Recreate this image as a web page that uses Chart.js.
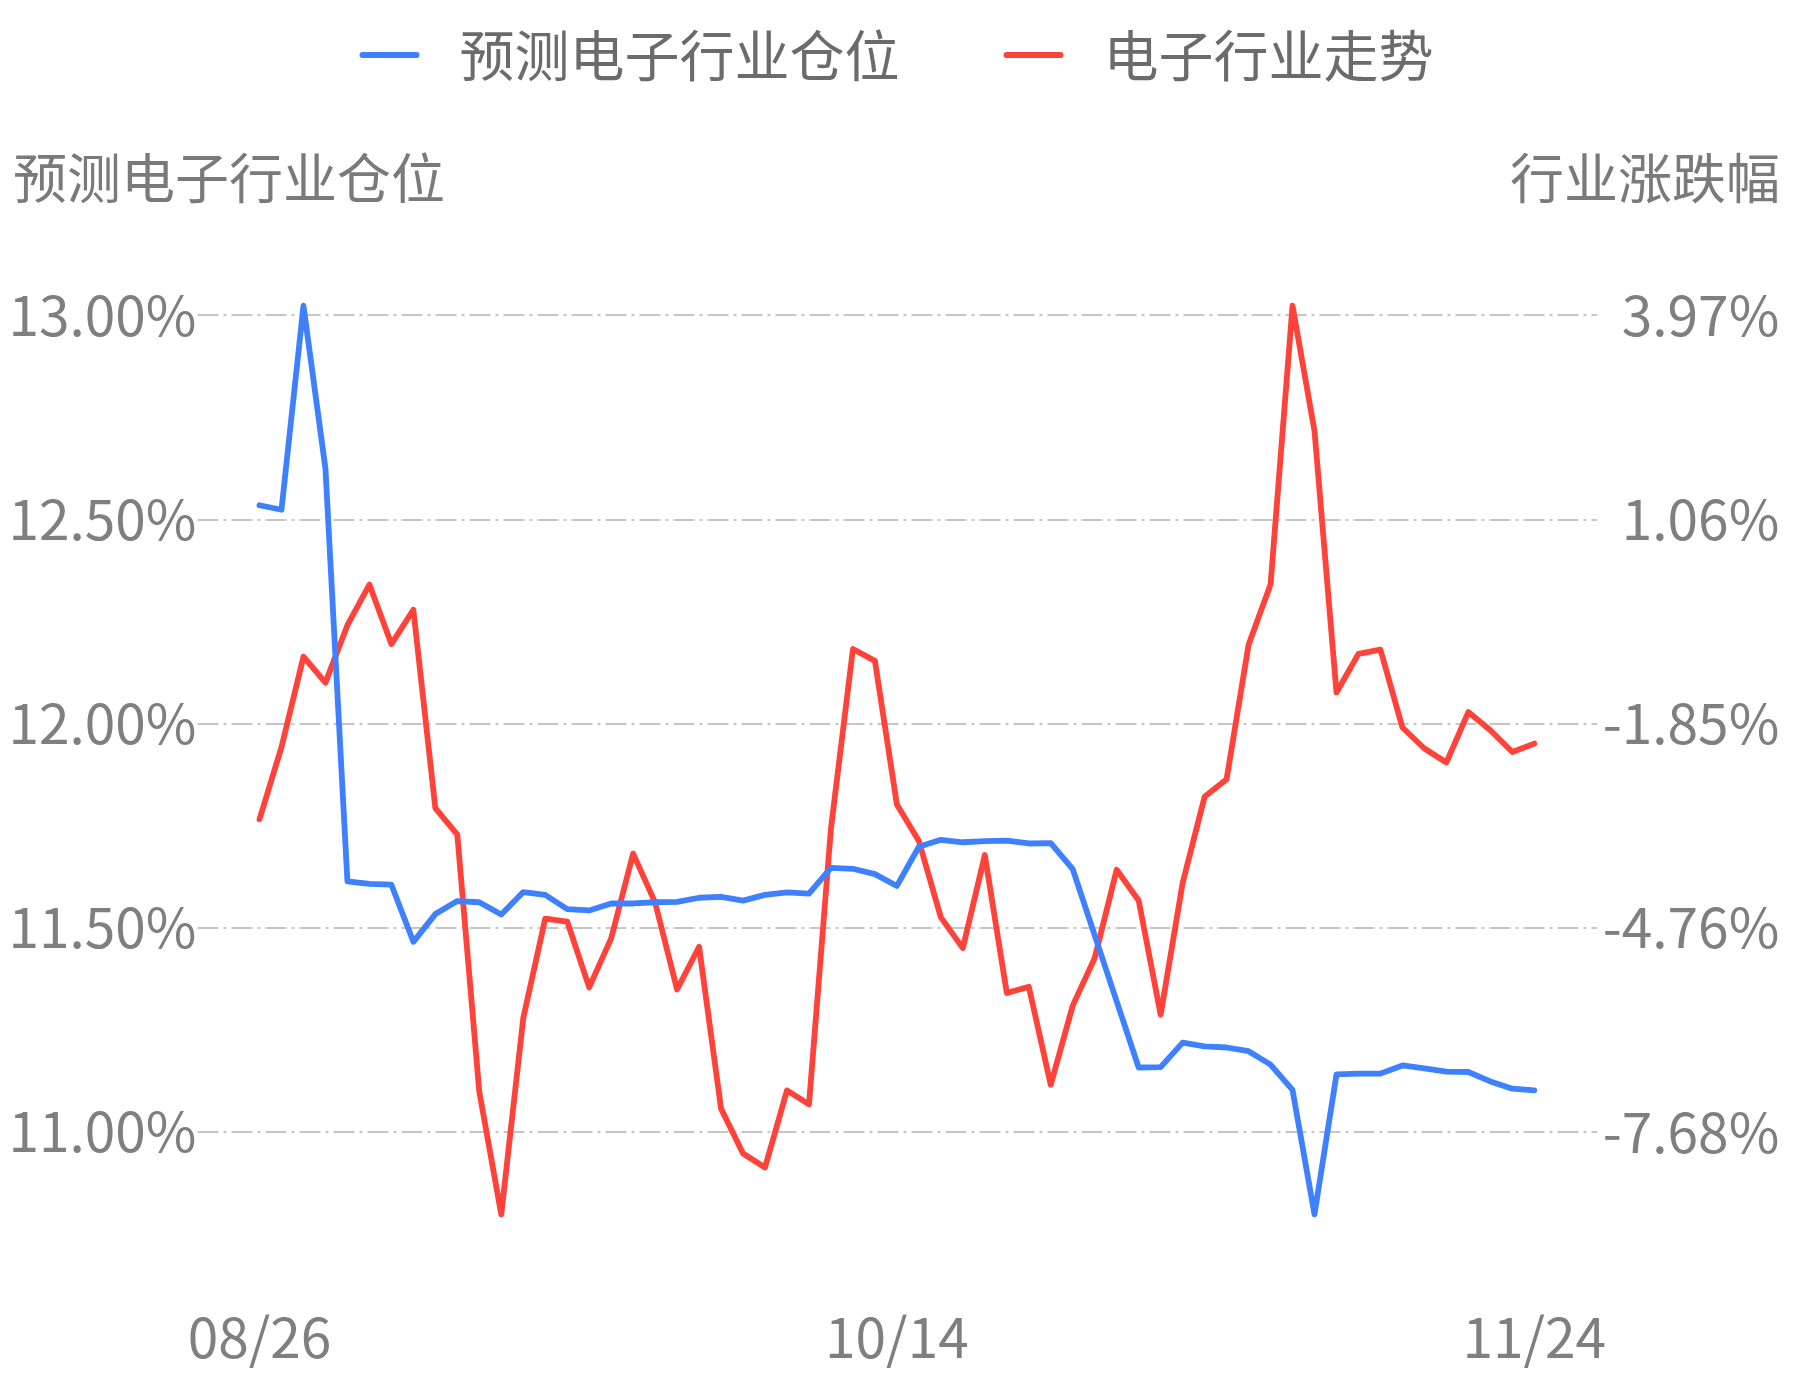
<!DOCTYPE html>
<html lang="zh-CN">
<head>
  <meta charset="UTF-8" />
  <title>预测电子行业仓位</title>
  <script src="https://cdn.jsdelivr.net/npm/chart.js"></script>
  <style>
    html, body { margin: 0; padding: 0; background: #fff; }
    #chart { display: block; }
  </style>
</head>
<body>
<canvas id="chart" width="1793" height="1380"></canvas>
<script>
  // trading days, only three of them get a tick label
  const dates = [
    "08/26", "08/27", "08/28", "08/29", "08/30",
    "09/02", "09/03", "09/04", "09/05", "09/06",
    "09/09", "09/10", "09/11", "09/12",
    "09/16", "09/17", "09/18", "09/19", "09/20",
    "09/23", "09/24", "09/25", "09/26", "09/27",
    "09/30",
    "10/08", "10/09", "10/10", "10/11",
    "10/14", "10/15", "10/16", "10/17", "10/18",
    "10/21", "10/22", "10/23", "10/24", "10/25",
    "10/28", "10/29", "10/30", "10/31", "11/01",
    "11/04", "11/05", "11/06", "11/07", "11/08",
    "11/11", "11/12", "11/13", "11/14", "11/15",
    "11/18", "11/19", "11/20", "11/21", "11/24"
  ];
  const xTickLabels = ["08/26", "10/14", "11/24"];

  // 预测电子行业仓位 (%), left axis
  const position = [
    12.535, 12.524, 13.024, 12.625, 11.613, 11.607, 11.605, 11.465, 11.533, 11.565,
    11.562, 11.532, 11.587, 11.580, 11.545, 11.542, 11.559, 11.559, 11.562, 11.563,
    11.573, 11.575, 11.566, 11.580, 11.586, 11.583, 11.646, 11.644, 11.631, 11.602,
    11.698, 11.715, 11.709, 11.712, 11.713, 11.706, 11.707, 11.643, 11.481, 11.319,
    11.157, 11.158, 11.218, 11.209, 11.206, 11.197, 11.164, 11.102, 10.797, 11.140,
    11.142, 11.142, 11.162, 11.155, 11.147, 11.146, 11.123, 11.105, 11.101
  ];

  // 电子行业走势 (%), right axis
  const trend = [
    -3.22, -2.19, -0.90, -1.27, -0.45, 0.13, -0.72, -0.23, -3.06, -3.44,
    -7.11, -8.86, -6.06, -4.64, -4.68, -5.62, -4.92, -3.71, -4.41, -5.65,
    -5.04, -7.35, -7.99, -8.19, -7.09, -7.29, -3.35, -0.79, -0.96, -3.01,
    -3.53, -4.62, -5.06, -3.73, -5.70, -5.61, -7.01, -5.88, -5.20, -3.94,
    -4.38, -6.01, -4.13, -2.90, -2.65, -0.73, 0.13, 4.11, 2.32, -1.41,
    -0.86, -0.80, -1.91, -2.21, -2.41, -1.69, -1.95, -2.26, -2.14
  ];

  const leftTicks = [11.00, 11.50, 12.00, 12.50, 13.00];
  const rightTicks = [-7.68, -4.76, -1.85, 1.06, 3.97];

  const FONT = '"Noto Sans CJK SC", "Noto Sans", sans-serif';
  const BLUE = "#3f80ff";
  const RED = "#ff433a";

  // dash-dot grid that runs a bit past the plot on both sides
  const dashGrid = {
    id: "dashGrid",
    beforeDatasetsDraw(chart) {
      const { ctx, chartArea } = chart;
      const y = chart.scales.y;
      ctx.save();
      ctx.strokeStyle = "#c6c6c6";
      ctx.lineWidth = 1.8;
      ctx.setLineDash([21, 5, 3, 5]);
      leftTicks.forEach(v => {
        const py = Math.round(y.getPixelForValue(v));
        ctx.beginPath();
        ctx.moveTo(chartArea.left - 62, py);
        ctx.lineTo(chartArea.right + 63, py);
        ctx.stroke();
      });
      ctx.restore();
    }
  };

  // legend on top + the two axis titles
  const headers = {
    id: "headers",
    afterDraw(chart) {
      const { ctx } = chart;
      ctx.save();
      ctx.font = "55px " + FONT;
      ctx.textBaseline = "middle";

      const items = chart.data.datasets.map(d => ({
        text: d.label, color: d.borderColor, w: ctx.measureText(d.label).width
      }));
      const markW = 60, markGap = 40, itemGap = 104;
      let total = 0;
      items.forEach((it, i) => { total += markW + markGap + it.w + (i ? itemGap : 0); });
      let x = chart.width / 2 - total / 2;
      const ly = 55;
      items.forEach((it, i) => {
        if (i) x += itemGap;
        ctx.strokeStyle = it.color;
        ctx.lineWidth = 6;
        ctx.lineCap = "round";
        ctx.beginPath();
        ctx.moveTo(x + 3, ly);
        ctx.lineTo(x + markW - 3, ly);
        ctx.stroke();
        x += markW + markGap;
        ctx.fillStyle = "#6b6b6b";
        ctx.textAlign = "left";
        ctx.fillText(it.text, x, ly);
        x += it.w;
      });

      ctx.font = "54px " + FONT;
      ctx.fillStyle = "#7a7a7a";
      ctx.textAlign = "left";
      ctx.fillText("预测电子行业仓位", 13, 178);
      ctx.textAlign = "right";
      ctx.fillText("行业涨跌幅", 1780, 178);
      ctx.restore();
    }
  };

  new Chart(document.getElementById("chart"), {
    type: "line",
    data: {
      labels: dates,
      datasets: [
        {
          label: "预测电子行业仓位",
          data: position,
          yAxisID: "y",
          borderColor: BLUE,
          backgroundColor: BLUE,
          borderWidth: 5.8,
          pointRadius: 0,
          tension: 0,
          borderJoinStyle: "round",
          borderCapStyle: "round",
          clip: false
        },
        {
          label: "电子行业走势",
          data: trend,
          yAxisID: "y1",
          borderColor: RED,
          backgroundColor: RED,
          borderWidth: 5.8,
          pointRadius: 0,
          tension: 0,
          borderJoinStyle: "round",
          borderCapStyle: "round",
          clip: false
        }
      ]
    },
    options: {
      responsive: false,
      animation: false,
      layout: { padding: { top: 305.7, right: 13.7, left: 0, bottom: 0 } },
      plugins: {
        legend: { display: false },
        tooltip: { enabled: false }
      },
      scales: {
        x: {
          offset: false,
          grid: { display: false, drawTicks: false },
          border: { display: false },
          afterFit: s => { s.height = 165.6; },
          ticks: {
            autoSkip: false,
            maxRotation: 0,
            padding: 90,
            color: "#7f7f7f",
            font: { family: FONT, size: 55 },
            callback: function (v) {
              const lab = this.getLabelForValue(v);
              return xTickLabels.includes(lab) ? lab : "";
            }
          }
        },
        y: {
          position: "left",
          min: Math.min(...position),
          max: Math.max(...position),
          grid: { display: false, drawTicks: false },
          border: { display: false },
          afterFit: s => { s.width = 259.5; },
          afterBuildTicks: s => { s.ticks = leftTicks.map(v => ({ value: v })); },
          ticks: {
            padding: 63,
            color: "#7f7f7f",
            font: { family: FONT, size: 55 },
            callback: v => v.toFixed(2) + "%"
          }
        },
        y1: {
          position: "right",
          min: Math.min(...trend),
          max: Math.max(...trend),
          grid: { display: false, drawTicks: false },
          border: { display: false },
          afterFit: s => { s.width = 245; },
          afterBuildTicks: s => { s.ticks = rightTicks.map(v => ({ value: v })); },
          ticks: {
            crossAlign: "far",
            padding: 60,
            color: "#7f7f7f",
            font: { family: FONT, size: 55 },
            callback: v => v.toFixed(2) + "%"
          }
        }
      }
    },
    plugins: [dashGrid, headers]
  });
</script>
</body>
</html>
